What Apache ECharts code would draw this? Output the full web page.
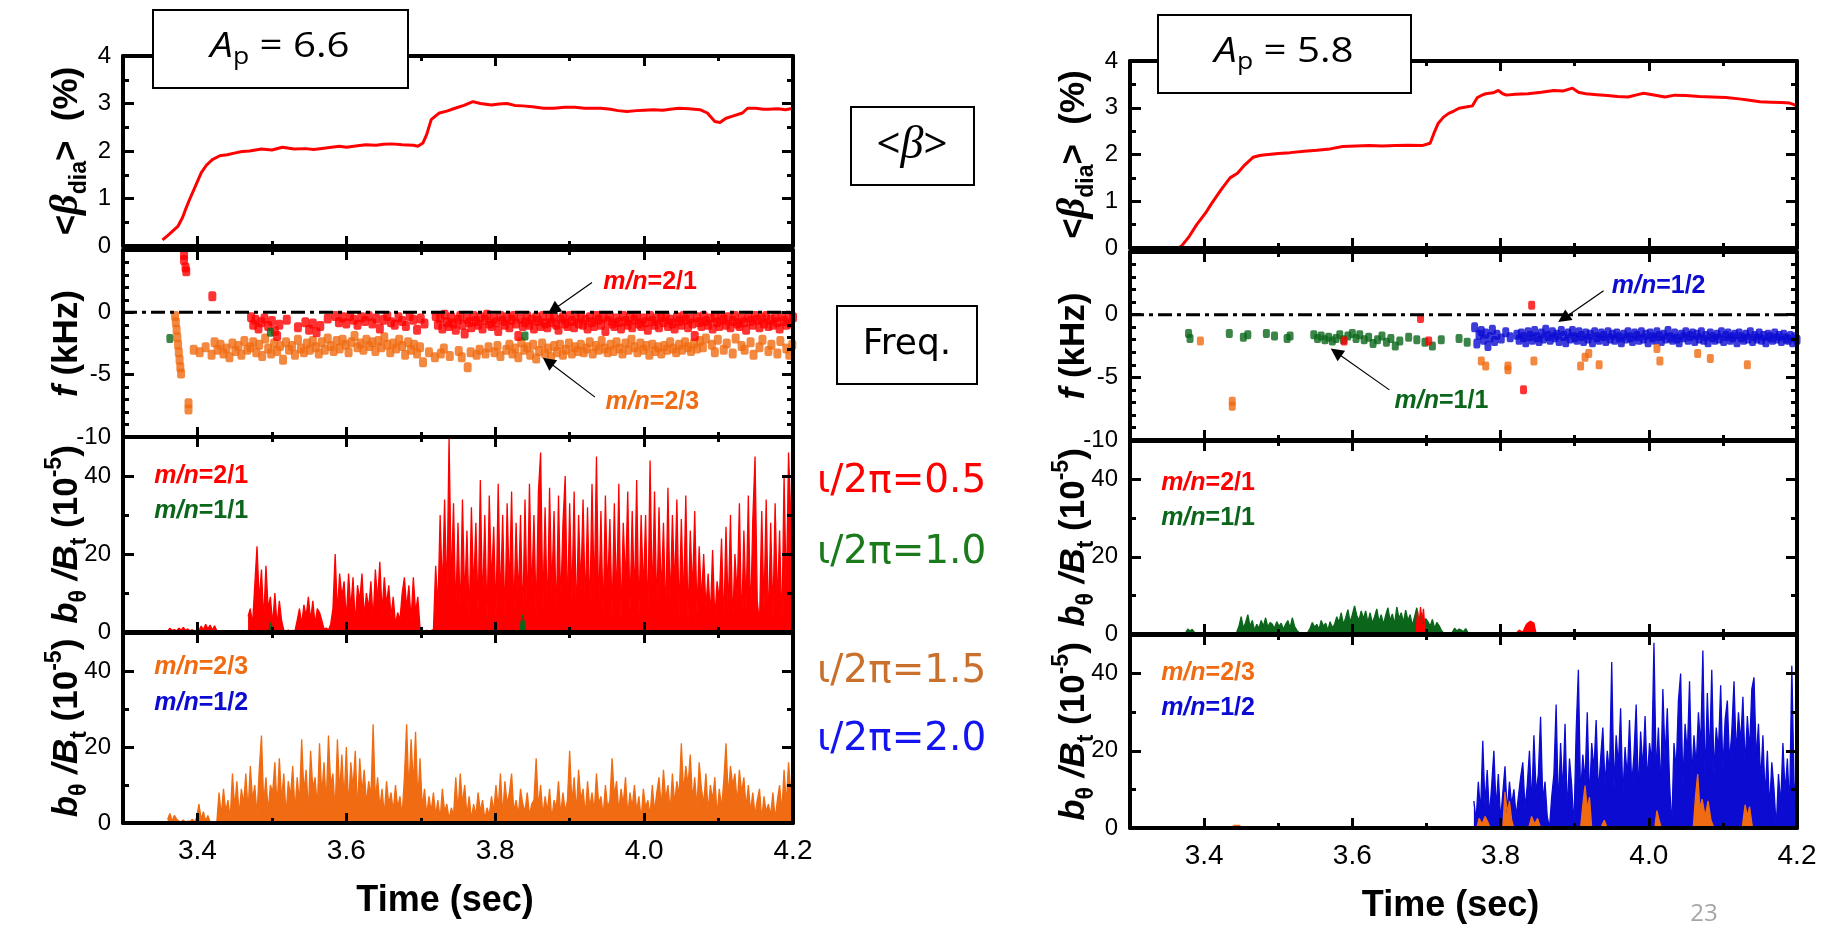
<!DOCTYPE html>
<html><head><meta charset="utf-8">
<script src="https://cdn.jsdelivr.net/npm/echarts@6.0.0/dist/echarts.min.js"></script>
<style>html,body{margin:0;padding:0;background:#fff;}#chart{width:1829px;height:925px;}</style>
</head><body><div id="chart"></div>
<script>
// ================= DATA =================
const timeRange = [3.3, 4.2];
const timeTicks = [3.4, 3.6, 3.8, 4.0, 4.2];
const timeMinorTicks = [3.3, 3.5, 3.7, 3.9, 4.1];
const betaRange = [0, 4], betaTicks = [0, 1, 2, 3, 4], betaMinorTicks = [0.5, 1.5, 2.5, 3.5];
const freqRange = [-10, 5], freqTicks = [-10, -5, 0], freqMinorTicks = [-9, -8, -7, -6, -4, -3, -2, -1, 1, 2, 3, 4];
const ampRange = [0, 50], ampTicks = [0, 20, 40], ampMinorTicks = [10, 30];
const zeroLevel = 0;

// <beta_dia>, A_p = 6.6
const betaLeftTime = [3.353,3.36,3.367,3.374,3.38,3.384,3.39,3.397,3.405,3.412,3.42,3.43,3.44,3.451,3.46,3.47,3.486,3.5,3.514,3.53,3.545,3.556,3.57,3.58,3.591,3.60,3.615,3.626,3.64,3.65,3.661,3.675,3.69,3.696,3.703,3.708,3.714,3.72,3.725,3.735,3.746,3.758,3.77,3.78,3.795,3.805,3.816,3.826,3.837,3.85,3.865,3.879,3.893,3.907,3.92,3.932,3.942,3.955,3.965,3.977,3.99,4.0,4.012,4.025,4.035,4.047,4.06,4.075,4.085,4.095,4.102,4.11,4.12,4.132,4.139,4.15,4.16,4.167,4.18,4.19,4.2];
const betaLeftValue = [0.13,0.22,0.32,0.42,0.6,0.77,1.0,1.25,1.54,1.7,1.82,1.9,1.92,1.96,1.99,2.0,2.04,2.02,2.08,2.04,2.05,2.03,2.06,2.08,2.1,2.08,2.11,2.13,2.12,2.14,2.15,2.13,2.12,2.1,2.17,2.35,2.66,2.74,2.8,2.84,2.9,2.96,3.04,3.0,2.97,2.99,3.0,2.96,2.95,2.93,2.9,2.9,2.92,2.92,2.9,2.9,2.9,2.88,2.85,2.83,2.85,2.86,2.87,2.86,2.88,2.9,2.89,2.87,2.8,2.62,2.6,2.69,2.74,2.8,2.9,2.9,2.88,2.88,2.89,2.87,2.9];
// <beta_dia>, A_p = 5.8
const betaRightTime = [3.3,3.365,3.37,3.38,3.39,3.402,3.41,3.423,3.435,3.445,3.455,3.466,3.475,3.48,3.5,3.516,3.535,3.552,3.57,3.587,3.605,3.623,3.64,3.658,3.675,3.694,3.705,3.71,3.716,3.723,3.73,3.737,3.744,3.755,3.762,3.766,3.769,3.775,3.78,3.79,3.797,3.803,3.808,3.82,3.837,3.855,3.872,3.885,3.897,3.905,3.915,3.93,3.944,3.958,3.972,3.985,3.993,4.005,4.022,4.035,4.05,4.068,4.086,4.104,4.122,4.136,4.15,4.165,4.179,4.19,4.197,4.2];
const betaRightValue = [0,0,0.05,0.25,0.5,0.75,0.95,1.25,1.5,1.6,1.78,1.94,1.98,1.99,2.02,2.04,2.07,2.09,2.12,2.17,2.18,2.19,2.18,2.19,2.2,2.19,2.24,2.45,2.67,2.8,2.88,2.93,2.99,3.02,3.04,3.15,3.22,3.27,3.3,3.32,3.37,3.3,3.27,3.29,3.3,3.33,3.37,3.36,3.42,3.33,3.3,3.28,3.26,3.24,3.23,3.28,3.31,3.28,3.23,3.27,3.26,3.24,3.23,3.22,3.19,3.16,3.13,3.12,3.11,3.1,3.06,3.05];

// Frequency, left (A_p = 6.6)
const freqLeftRedTime = [3.382,3.382,3.384,3.385,3.42,3.472,3.475,3.478,3.482,3.486,3.49,3.495,3.5,3.504,3.507,3.51,3.52,3.535,3.545,3.55,3.555,3.56,3.565,3.575,3.585,3.59,3.595,3.6,3.605,3.61,3.615,3.62,3.625,3.63,3.635,3.64,3.645,3.65,3.655,3.66,3.665,3.67,3.675,3.68,3.685,3.69,3.695,3.7,3.705];
const freqLeftRedValue = [4.6,4.2,3.6,3.3,1.3,-0.4,-1.0,-0.6,-1.3,-0.8,-0.5,-1.1,-0.7,-1.5,-1.9,-1.0,-0.6,-1.2,-0.8,-1.4,-0.9,-1.6,-1.1,-0.5,-0.3,-0.8,-0.4,-0.9,-0.3,-0.6,-1.0,-0.4,-0.7,-0.3,-0.9,-0.5,-1.3,-0.6,-0.3,-0.8,-1.0,-0.4,-0.7,-1.1,-0.3,-0.6,-1.4,-0.5,-0.9];
const freqLeftRedDenseStart = 3.72, freqLeftRedDenseStep = 0.003;
const freqLeftRedDense = [-0.3,-1.0,-0.5,-1.3,-0.2,-0.8,-1.1,-0.4,-0.9,-1.4,-0.6,-0.3,-1.0,-1.7,-0.5,-0.8,-1.2,-0.3,-0.7,-1.0,-0.4,-1.3,-0.6,-0.2,-0.9,-1.1,-0.5,-0.8,-1.5,-0.3,-0.7,-1.0,-0.4,-1.2,-0.6,-0.3,-0.9,-1.9,-0.5,-1.1,-0.8,-0.3,-1.0,-0.6,-1.3,-0.4,-0.7,-1.1,-0.3,-0.9,-1.2,-0.5,-0.8,-0.3,-1.0,-1.4,-0.6,-0.4,-0.9,-1.1,-0.3,-0.7,-1.2,-0.5,-0.9,-0.3,-1.0,-0.6,-1.3,-0.4,-0.8,-1.1,-0.3,-0.6,-1.0,-0.4,-1.5,-0.7,-0.3,-0.9,-1.1,-0.5,-0.8,-1.3,-0.3,-0.7,-1.0,-0.4,-1.2,-0.6,-0.3,-0.9,-1.1,-0.5,-0.8,-1.4,-0.3,-0.7,-1.0,-0.5,-1.2,-0.4,-0.8,-0.3,-1.1,-0.6,-0.9,-1.3,-0.4,-0.7,-1.0,-0.3,-0.6,-1.2,-0.5,-0.9,-1.9,-0.4,-0.8,-1.1,-0.3,-0.7,-1.0,-0.5,-1.3,-0.4,-0.8,-1.1,-0.3,-0.6,-1.0,-0.4,-1.2,-0.7,-0.3,-0.9,-1.1,-0.5,-0.8,-1.4,-0.4,-0.7,-1.0,-0.3,-0.6,-1.2,-0.5,-0.9,-0.3,-1.1,-0.6,-1.0,-0.4,-0.8,-1.3,-0.3,-0.7,-1.0,-0.5,-0.9,-0.4];
const freqLeftOrangeTime = [3.37,3.371,3.372,3.373,3.374,3.375,3.376,3.377,3.378,3.388,3.388];
const freqLeftOrangeValue = [-0.3,-0.8,-1.4,-2.0,-2.6,-3.2,-3.8,-4.4,-4.9,-7.3,-7.8];
const freqLeftOrangeDenseStart = 3.395, freqLeftOrangeDenseStep = 0.004;
const freqLeftOrangeDense = [-3.0,null,-3.2,null,-2.8,null,-3.4,-2.4,-3.0,
 -2.6,-3.3,-2.9,-3.6,-2.5,-3.1,-2.7,-3.4,-2.3,-3.0,-2.8,
 -2.4,-3.2,-2.6,-3.5,-2.1,-2.9,-3.3,-2.5,-3.1,-2.7,
 -3.8,-2.4,-3.0,-2.7,-3.4,-2.2,-2.9,-3.2,-2.5,-3.0,
 -2.3,-2.8,-3.3,-2.4,-3.0,-2.1,-2.7,-3.1,-2.3,-2.9,
 -2.2,-2.6,-3.2,-2.4,-1.9,-2.8,-2.5,-3.0,-2.2,-2.7,
 -2.4,-3.1,-2.3,-2.8,-2.0,-2.6,-3.2,-2.5,-2.9,-2.2,
 -2.7,-3.4,-2.4,-3.0,-2.6,-3.3,-2.8,-4.0,null,-3.2,
 null,-3.6,null,-3.3,-2.9,null,-3.5,null,null,-3.1,
 -3.6,null,-4.4,-3.2,null,-3.4,-3.0,null,-3.3,-2.8,
 null,-3.2,-2.7,-3.5,null,-3.0,-2.6,-3.3,-2.9,-3.6,
 -2.4,-3.0,-2.8,-3.4,-2.6,-3.7,-3.1,-2.5,-3.3,-2.9,
 -3.6,-2.7,-3.2,-2.6,-3.4,-3.0,-2.5,-3.3,-2.8,-3.1,
 -2.6,-3.2,-2.9,-2.4,-3.3,-2.7,-3.0,-2.3,-2.9,-3.2,
 -2.6,-3.1,-2.4,-2.9,-3.3,-2.5,-3.0,-2.2,-2.8,-3.2,
 -2.5,-3.0,-2.7,-3.4,-2.6,-3.1,-2.8,-3.3,-2.7,-3.0,
 -2.4,-2.9,-3.2,-2.6,-3.0,-2.4,-2.8,-3.1,-2.5,-2.9,
 -2.3,-2.8,-2.1,null,-2.6,-3.2,-2.2,null,-3.0,-2.5,
 null,-3.3,-2.1,null,-2.7,-3.0,null,-2.4,-3.4,null,
 -2.8,-2.2,null,-3.1,-2.6,null,-3.3,-2.3,null,-2.9,-3.4,-2.6];
const freqLeftGreenTime = [3.363, 3.498, 3.84];
const freqLeftGreenValue = [-2.1, -1.6, -1.9];

// Frequency, right (A_p = 5.8)
const freqRightGreenTime = [3.379,3.381,3.434,3.453,3.459,3.484,3.495,3.512,3.516,3.548,3.553,3.558,3.563,3.568,3.573,3.578,3.583,3.588,3.594,3.6,3.605,3.61,3.616,3.622,3.628,3.634,3.64,3.646,3.652,3.658,3.664,3.676,3.687,3.698,3.708,3.72,3.744,3.755];
const freqRightGreenValue = [-1.5,-1.9,-1.5,-1.8,-1.6,-1.5,-1.7,-1.9,-1.7,-1.6,-1.9,-1.7,-2.0,-1.8,-2.1,-1.9,-1.6,-2.0,-1.7,-1.5,-1.9,-1.6,-2.0,-1.8,-2.3,-2.0,-1.7,-2.2,-1.9,-2.5,-2.1,-1.8,-2.0,-2.2,-2.5,-2.0,-1.9,-2.2];
const freqRightRedTime = [3.589, 3.692, 3.703, 3.831, 3.842];
const freqRightRedValue = [-2.1, -0.3, -2.1, -6.0, 0.75];
const freqRightOrangeTime = [3.395,3.438,3.438,3.774,3.78,3.81,3.81,3.845,3.908,3.914,3.919,3.933,4.011,4.015,4.066,4.083,4.133];
const freqRightOrangeValue = [-2.1,-6.9,-7.3,-3.7,-4.1,-4.1,-4.4,-3.7,-4.1,-3.4,-3.1,-4.0,-2.7,-3.7,-3.1,-3.5,-4.0];
const freqRightBlueStart = 3.765, freqRightBlueStep = 0.003;
const freqRightBlue = [-1.0,-2.3,-1.6,-1.3,-2.0,-1.5,-2.5,-1.8,-1.2,-2.1,
 -1.6,null,-1.9,null,-1.4,null,-1.8,null,null,-1.6,
 -2.0,-1.5,-1.8,-2.2,-1.4,-1.7,-2.0,-1.3,-1.8,-2.1,
 -1.5,-1.9,-1.2,-1.7,-2.0,-1.4,-1.8,-1.6,-2.1,-1.3,
 -1.7,-2.2,-1.5,-1.9,-1.3,-1.8,-2.0,-1.4,-1.7,-2.1,
 -1.5,-1.9,-1.6,-2.2,-1.4,-1.8,-2.0,-1.5,-1.7,-2.1,
 -1.4,-1.9,-1.6,-2.0,-1.5,-1.8,-2.2,-1.6,-1.9,-1.4,
 -1.8,-2.1,-1.5,-1.7,-2.0,-1.4,-1.9,-1.6,-2.2,-1.5,
 -1.8,-2.0,-1.4,-1.7,-2.1,-1.6,-1.9,-1.3,-1.8,-2.0,
 -1.5,-1.9,-2.2,-1.6,-1.8,-1.4,-2.0,-1.7,-1.5,-2.1,
 -1.6,-1.9,-1.4,-2.0,-1.7,-2.2,-1.5,-1.8,-2.0,-1.6,
 -1.9,-1.4,-2.1,-1.7,-1.5,-2.0,-1.8,-1.6,-2.2,-1.5,
 -1.8,-2.0,-1.6,-1.9,-1.4,-2.1,-1.7,-1.9,-1.5,-2.0,
 -1.7,-2.2,-1.6,-1.8,-2.0,-1.5,-1.9,-1.7,-2.1,-1.6,
 -1.9,-2.0,-1.7,-2.2,-1.8,-2.0];

// b_theta/B_t, left: m/n=2/1 (red), m/n=1/1 (green), m/n=2/3 (orange)
const ampStart = 3.36, ampStep = 0.003;
const ampLeft21 = [0.2,1,0.4,0.6,0.3,1,0.5,1.2,0.4,0.8,
 0.3,0.6,0.2,0.5,0.4,1.5,0.6,2,0.8,1.8,
 0.5,1.6,0.3,null,null,null,null,null,null,null,
 null,null,null,null,null,null,4,6,2,12,
 22,8,16,3,17,6,9,2,10,1.5,
 8,3,0.5,0.3,0.5,0.2,0.4,0.3,3,6,
 2,7,4,9,3,8,2,6,5,3,
 0.8,1,0.5,2,6,20,5,15,9,13,
 3,15,6,14,2,12,8,15,4,10,
 6,13,3,16,8,18,5,14,7,12,
 4,9,2,5,3,10,14,6,12,3,
 14,5,9,1,0.5,0.3,0.4,0.3,0.4,0.6,
 17,6,30,10,34,8,50,12,33,5,
 28,4,34,8,26,3,32,10,28,5,
 39,6,30,3,35,12,27,4,38,7,
 30,3,33,10,36,4,28,8,30,3,
 34,5,38,9,30,4,36,46,6,32,
 4,37,10,31,3,35,7,28,40,5,
 33,8,36,3,30,11,34,6,32,4,
 38,9,45,5,31,3,35,10,29,4,
 33,7,38,3,28,12,36,5,31,8,
 39,4,30,10,30,3,44,7,36,5,
 32,9,28,3,37,6,30,11,34,4,
 29,7,35,3,26,10,31,5,22,8,
 20,6,15,4,21,3,13,8,24,2,
 27,5,30,2,20,9,33,1,26,6,
 35,3,29,45,8,2,31,6,34,1,
 28,4,33,7,26,0.5,40,9,46,30,20];
const ampLeft11Time = [3.496,3.498,3.5,3.502,3.6,3.833,3.835,3.837,3.839,3.841];
const ampLeft11Value = [0,2.4,1.5,0,null,0,3,4.4,2.5,0];
const ampLeft23 = [1,2.5,0.5,2,1,0.5,0.3,0.8,0.2,0.5,
 0.4,1,0.3,1.5,5,1,3,0.5,2,0.3,
 0.2,0.3,0.2,8,2,9,3,6,1,13,
 4,11,2,9,5,13,3,15,6,10,
 2,14,23,5,12,3,10,8,16,4,
 17,6,13,2,11,7,15,3,12,5,
 22,8,14,3,19,9,12,4,21,7,
 16,5,23,10,13,3,22,8,18,6,
 20,4,16,9,19,3,17,8,14,5,
 11,7,26,6,12,4,9,2,11,5,
 8,3,10,4,7,2,12,26,8,22,
 10,24,6,17,4,9,2,7,3,8,
 2,6,1,9,3,5,1,4,2,12,
 3,13,5,10,2,7,1,5,2,8,
 3,6,1,4,2,7,3,10,4,13,
 2,11,5,8,13,3,6,2,9,5,
 3,8,2,5,6,17,4,10,2,7,
 3,9,1,6,4,11,2,8,3,6,
 19,5,12,3,14,6,9,2,11,4,
 8,3,13,5,7,2,10,4,6,17,
 7,11,3,9,5,12,2,8,4,10,
 3,7,1,9,4,6,2,10,3,8,
 12,4,14,6,10,3,13,5,11,7,
 21,8,15,10,18,6,12,4,16,9,
 5,13,3,10,6,12,2,9,4,11,
 21,7,15,10,13,5,14,8,12,4,
 10,3,8,2,6,9,1,7,3,5,
 2,8,1,6,10,3,14,5,16,8,15];

// b_theta/B_t, right
const ampRight11Start = 3.375;
const ampRight11 = [0.3,1.3,0.8,1.2,0.4,0.2,null,null,null,null,
 null,null,null,null,null,null,null,null,null,null,
 null,null,null,0.5,2,4.5,1.5,3,5,2,
 3.5,1,2.5,1.5,3.5,2,4.2,1.8,3,2.5,
 1.5,3.2,2,2.8,1.2,2.5,3.5,1.5,4.2,2,
 1,0.4,null,null,null,0.5,1.5,3,1.8,2.5,
 1.2,3.5,2,2.8,1,3.2,1.6,2.5,4.5,3,
 5.5,2.5,4.2,6.3,3,5,7.3,4.8,3.5,6,
 4,6,3,5.5,2.8,4.5,6.5,3.2,5,2.5,
 4.8,6.8,3.5,5.2,2.5,7,4,5.5,3,6.2,
 3.5,5,2.2,4.5,6.8,3,5.5,2.5,4,3.2,
 2,3.8,1.5,3,2.2,1,0.3,null,null,null,
 0.5,1.5,0.8,1.3,1,0.6,1.4,0.4,null];
const ampRight21Time = [3.686,3.688,3.69,3.692,3.694,3.696,3.698,3.7,3.76,3.82,3.825,3.83,3.835,3.84,3.845,3.848];
const ampRight21Value = [0,6,2,7,3,6.5,1,0,null,0,1,0.5,2.5,3.3,2.8,0];
const ampRight12Start = 3.764;
const ampRight12 = [7,2,12,4,22.6,6,15,3,11,20,
 5,14,2,9,16,4,12,6,10,3,
 8,13,17,5,11,20,6,24,9,14,
 28.8,7,12,3,0,8,14,32,5,22,
 9,27,4,18,11,0,25,41,8,19,
 12,30,7,22,15,28,9,18,26,11,
 20,14,43,10,24,16,31,8,21,13,
 28,11,19,32,9,25,15,29,12,22,
 17,48,14,26,10,36,18,31,12,0,
 22,15,33,40,11,27,19,38,13,24,
 16,30,21,46,12,35,18,41,14,26,
 20,37,15,28,33,17,25,38,19,30,
 22,34,16,29,20,36,39,18,27,12,
 24,8,20,5,17,10,0,14,6,22,
 9,18,5,42,12,3];
const ampRight23Time = [3.437,3.44,3.448,3.45,3.6,3.768,3.771,3.775,3.779,3.783,3.786,3.795,3.803,3.806,3.809,3.812,3.815,3.818,3.83,3.838,3.842,3.846,3.85,3.854,3.88,3.908,3.911,3.914,3.917,3.92,3.923,3.93,3.935,3.94,3.944,3.98,4.008,4.011,4.014,4.017,4.04,4.06,4.063,4.066,4.069,4.072,4.076,4.08,4.084,4.088,4.1,4.126,4.13,4.133,4.136,4.14];
const ampRight23Value = [0,0.7,0.7,0,null,0,2.5,1,3,1.5,0,null,0,9.4,4,7,2,0,null,0,3,1,2.5,0,null,0,6,11,5,8,0,null,0,2,0,null,0,4.5,2,0,null,0,8,14,5,7.5,3,7,2,0,null,0,6,3,5.5,0];

// Annotation arrows (time, value) for the frequency panels
const arrowsLeft = [[[3.930, 2.4], [3.878, 0.2]], [[3.934, -6.8], [3.871, -3.95]]];
const arrowsRight = [[[3.939, 1.9], [3.885, -0.3]], [[3.650, -6.0], [3.578, -3.0]]];

// ================= STYLE / LAYOUT =================
const RED = '#ff0000', ORANGE = '#f06b12', GREEN = '#0b661c', BLUE = '#0b0bd2';
const FONT = "'Liberation Sans', Arial, Helvetica, sans-serif";
const NAME_BETA = '{b|<}{beta|β}{sub|dia}{b|>  (%)}';
const NAME_F = '{bi|f}{b| (kHz)}';
const NAME_B = '{bi|b}{sub|θ}{bi| /B}{sub|t}{b| (10}{sup|-5}{b|)}';
const nameRich = {
  b: {fontFamily: FONT, fontSize: 35, fontWeight: 'bold', lineHeight: 48, color: '#000'},
  bi: {fontFamily: FONT, fontSize: 35, fontWeight: 'bold', fontStyle: 'italic', lineHeight: 48, color: '#000'},
  beta: {fontFamily: "'Liberation Serif', serif", fontSize: 40, fontWeight: 'bold', fontStyle: 'italic', lineHeight: 48, color: '#000'},
  sub: {fontFamily: FONT, fontSize: 23, fontWeight: 'bold', lineHeight: 28, verticalAlign: 'bottom', color: '#000'},
  sup: {fontFamily: FONT, fontSize: 23, fontWeight: 'bold', lineHeight: 28, verticalAlign: 'top', color: '#000'}
};

const LX = 123, LW = 670, RX = 1130, RW = 667;
const panels = [
  {box: [LX, 56, LW, 190], range: betaRange, major: betaTicks, minor: betaMinorTicks, name: NAME_BETA},
  {box: [LX, 250, LW, 187], range: freqRange, major: freqTicks, minor: freqMinorTicks, name: NAME_F},
  {box: [LX, 437, LW, 195], range: ampRange, major: ampTicks, minor: ampMinorTicks, name: NAME_B},
  {box: [LX, 633, LW, 190], range: ampRange, major: ampTicks, minor: ampMinorTicks, name: NAME_B, showX: true},
  {box: [RX, 61, RW, 187], range: betaRange, major: betaTicks, minor: betaMinorTicks, name: NAME_BETA},
  {box: [RX, 252, RW, 188], range: freqRange, major: freqTicks, minor: freqMinorTicks, name: NAME_F},
  {box: [RX, 441, RW, 193], range: ampRange, major: ampTicks, minor: ampMinorTicks, name: NAME_B},
  {box: [RX, 635, RW, 193], range: ampRange, major: ampTicks, minor: ampMinorTicks, name: NAME_B, showX: true}
];

const nz = v => (v === null ? '-' : v);
const pair = (ts, vs) => ts.map((t, i) => [t, nz(vs[i])]);
const uniform = (t0, dt, vs) => vs.map((v, i) => [Math.round((t0 + i * dt) * 10000) / 10000, nz(v)]);

const grids = [], xAxes = [], yAxes = [];
panels.forEach((p, gi) => {
  grids.push({left: p.box[0], top: p.box[1], width: p.box[2], height: p.box[3], show: false, containLabel: false, outerBoundsMode: 'none'});
  const mkX = (pos, ticks, len, line, lab) => ({
    type: 'value', gridIndex: gi, position: pos, min: timeRange[0], max: timeRange[1], z: 6,
    axisLine: {show: line, onZero: false, lineStyle: {color: '#000', width: 4}},
    axisTick: {show: true, inside: true, length: len, customValues: ticks, lineStyle: {color: '#000', width: 3}},
    axisLabel: lab ? {show: true, customValues: timeTicks, formatter: v => v.toFixed(1), fontFamily: FONT, fontSize: 28, color: '#000', margin: 14, showMinLabel: true, showMaxLabel: true} : {show: false},
    splitLine: {show: false}, minorTick: {show: false}
  });
  const bx = mkX('bottom', timeTicks, 10, true, p.showX);
  if (p.showX) {
    Object.assign(bx, {name: 'Time (sec)', nameLocation: 'middle', nameGap: 60, nameMoveOverlap: false,
      nameTextStyle: {fontFamily: FONT, fontSize: 36, fontWeight: 'bold', color: '#000', padding: [0, 26, 0, 0]}});
  }
  xAxes.push(bx, mkX('bottom', timeMinorTicks, 5, false, false), mkX('top', timeTicks, 10, true, false), mkX('top', timeMinorTicks, 5, false, false));
  const mkY = (pos, ticks, len, line, lab) => ({
    type: 'value', gridIndex: gi, position: pos, min: p.range[0], max: p.range[1], z: 6,
    axisLine: {show: line, onZero: false, lineStyle: {color: '#000', width: 4}},
    axisTick: {show: true, inside: true, length: len, customValues: ticks, lineStyle: {color: '#000', width: 3}},
    axisLabel: lab ? {show: true, customValues: p.major, formatter: v => String(v), fontFamily: FONT, fontSize: 24, color: '#000', margin: 12, showMinLabel: true, showMaxLabel: true} : {show: false},
    splitLine: {show: false}, minorTick: {show: false}
  });
  const ly = mkY('left', p.major, 11, true, true);
  Object.assign(ly, {name: p.name, nameLocation: 'middle', nameRotate: 90, nameGap: 56, nameMoveOverlap: false,
    nameTextStyle: {rich: nameRich, align: 'center', verticalAlign: 'middle'}});
  yAxes.push(ly, mkY('left', p.minor, 6, false, false), mkY('right', p.major, 11, true, false), mkY('right', p.minor, 6, false, false));
});

const series = [];
const ax = gi => ({xAxisIndex: gi * 4, yAxisIndex: gi * 4});
const lineS = (gi, data, color, width) => Object.assign({type: 'line', data, showSymbol: false, symbol: 'none', connectNulls: false,
  lineStyle: {color, width}, itemStyle: {color}, z: 2, silent: true}, ax(gi));
const sigS = (gi, data, color) => Object.assign(lineS(gi, data, color, 1.3), {areaStyle: {color, opacity: 1}});
const dotS = (gi, data, color, size) => Object.assign({type: 'scatter', data, symbol: 'roundRect', symbolSize: size || [7, 9],
  itemStyle: {color}, z: 2, silent: true}, ax(gi));
const zeroS = (gi, arrows) => Object.assign({type: 'line', data: [[timeRange[0], zeroLevel], [timeRange[1], zeroLevel]],
  showSymbol: false, symbol: 'none', z: 3, silent: true,
  lineStyle: {color: '#000', width: 3, type: [14, 5, 4, 5]},
  markLine: {silent: true, symbol: ['none', 'triangle'], symbolSize: 13, animation: false,
    lineStyle: {color: '#000', width: 1.2, type: 'solid'}, label: {show: false},
    data: arrows.map(a => [{coord: a[0]}, {coord: a[1]}])}}, ax(gi));

// left
series.push(lineS(0, pair(betaLeftTime, betaLeftValue), RED, 3));
series.push(dotS(1, pair(freqLeftOrangeTime, freqLeftOrangeValue).concat(uniform(freqLeftOrangeDenseStart, freqLeftOrangeDenseStep, freqLeftOrangeDense)), ORANGE, [8, 10]));
series.push(dotS(1, pair(freqLeftRedTime, freqLeftRedValue).concat(uniform(freqLeftRedDenseStart, freqLeftRedDenseStep, freqLeftRedDense)), RED, [8, 10]));
series.push(dotS(1, pair(freqLeftGreenTime, freqLeftGreenValue), GREEN));
series.push(zeroS(1, arrowsLeft));
series.push(sigS(2, uniform(ampStart, ampStep, ampLeft21), RED));
series.push(sigS(2, pair(ampLeft11Time, ampLeft11Value), GREEN));
series.push(sigS(3, uniform(ampStart, ampStep, ampLeft23), ORANGE));
// right
series.push(lineS(4, pair(betaRightTime, betaRightValue), RED, 3));
series.push(dotS(5, pair(freqRightGreenTime, freqRightGreenValue), GREEN));
series.push(dotS(5, uniform(freqRightBlueStart, freqRightBlueStep, freqRightBlue), BLUE, [7, 10]));
series.push(dotS(5, pair(freqRightOrangeTime, freqRightOrangeValue), ORANGE));
series.push(dotS(5, pair(freqRightRedTime, freqRightRedValue), RED));
series.push(zeroS(5, arrowsRight));
series.push(sigS(6, uniform(ampRight11Start, ampStep, ampRight11), GREEN));
series.push(sigS(6, pair(ampRight21Time, ampRight21Value), RED));
series.push(sigS(7, uniform(ampRight12Start, ampStep, ampRight12), BLUE));
series.push(sigS(7, pair(ampRight23Time, ampRight23Value), ORANGE));

const chart = echarts.init(document.getElementById('chart'), null, {renderer: 'canvas', width: 1829, height: 925});
chart.setOption({animation: false, backgroundColor: '#fff', grid: grids, xAxis: xAxes, yAxis: yAxes, series});

// ================= ANNOTATIONS =================
const modeLabels = [
  {gi: 2, t: 3.342, v: 40, mn: '2/1', color: RED}, {gi: 2, t: 3.342, v: 31, mn: '1/1', color: GREEN},
  {gi: 3, t: 3.342, v: 41, mn: '2/3', color: ORANGE}, {gi: 3, t: 3.342, v: 31.5, mn: '1/2', color: BLUE},
  {gi: 6, t: 3.342, v: 39, mn: '2/1', color: RED}, {gi: 6, t: 3.342, v: 30, mn: '1/1', color: GREEN},
  {gi: 7, t: 3.342, v: 40, mn: '2/3', color: ORANGE}, {gi: 7, t: 3.342, v: 31, mn: '1/2', color: BLUE},
  {gi: 1, t: 3.945, v: 2.4, mn: '2/1', color: RED}, {gi: 1, t: 3.948, v: -7.2, mn: '2/3', color: ORANGE},
  {gi: 5, t: 3.950, v: 2.3, mn: '1/2', color: BLUE}, {gi: 5, t: 3.657, v: -6.9, mn: '1/1', color: GREEN}
];
const graphics = [];
const box = (x, y, w, h) => ({type: 'rect', shape: {x, y, width: w, height: h}, style: {fill: '#fff', stroke: '#000', lineWidth: 2}, z: 100});
graphics.push(box(153, 10, 255, 78), box(1158, 15, 253, 78), box(851, 107, 123, 78), box(837, 306, 140, 78));
const apText = (x, y, val) => ({type: 'text', x, y, scaleX: 1.15, z: 101, style: {
  text: '{a|A}{p|p}{n| = ' + val + '}', align: 'center', verticalAlign: 'middle',
  rich: {a: {fontFamily: "'Open Sans'", fontSize: 35, fontStyle: 'italic', lineHeight: 44, fill: '#000'},
         p: {fontFamily: "'Open Sans'", fontSize: 23, lineHeight: 26, verticalAlign: 'bottom', fill: '#000'},
         n: {fontFamily: "'Open Sans'", fontSize: 35, lineHeight: 44, fill: '#000'}}}});
graphics.push(apText(280, 47, '6.6'), apText(1284, 52, '5.8'));
graphics.push({type: 'text', x: 912, y: 146, z: 101, style: {text: '{n|<}{g|β}{n|>}', align: 'center', verticalAlign: 'middle',
  rich: {n: {fontFamily: "'Open Sans'", fontSize: 42, fill: '#000'}, g: {fontFamily: "'Liberation Serif', serif", fontSize: 46, fontStyle: 'italic', fill: '#000'}}}});
graphics.push({type: 'text', x: 907, y: 345, z: 101, style: {text: 'Freq.', align: 'center', verticalAlign: 'middle', fontFamily: "'DejaVu Sans'", fontSize: 36, fill: '#000'}});
const iotaTexts = [['ι/2π=0.5', RED, 482], ['ι/2π=1.0', '#1b7a1b', 553], ['ι/2π=1.5', '#c8702c', 672], ['ι/2π=2.0', '#1414f0', 740]];
iotaTexts.forEach(([s, c, y]) => graphics.push({type: 'text', x: 817, y, z: 101, style: {text: s, align: 'left', verticalAlign: 'middle', fontFamily: "'DejaVu Sans'", fontSize: 39, fill: c}}));
graphics.push({type: 'text', x: 1704, y: 914, z: 101, style: {text: '23', align: 'center', verticalAlign: 'middle', fontFamily: "'Open Sans'", fontSize: 24, fill: '#a6a6a6'}});
modeLabels.forEach(m => {
  const pt = chart.convertToPixel({xAxisIndex: m.gi * 4, yAxisIndex: m.gi * 4}, [m.t, m.v]);
  graphics.push({type: 'text', x: pt[0], y: pt[1], z: 101, style: {
    text: '{i|m/n}{r|=' + m.mn + '}', align: 'left', verticalAlign: 'middle',
    rich: {i: {fontFamily: FONT, fontSize: 25, fontWeight: 'bold', fontStyle: 'italic', fill: m.color},
           r: {fontFamily: FONT, fontSize: 25, fontWeight: 'bold', fill: m.color}}}});
});
chart.setOption({graphic: graphics});
</script></body></html>
